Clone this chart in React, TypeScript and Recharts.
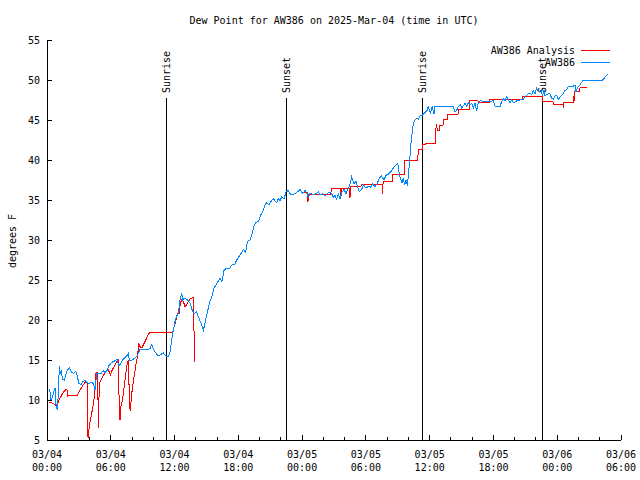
import React from 'react';
import { LineChart, Line, XAxis, YAxis, ReferenceLine } from 'recharts';

// hours since 03/04 00:00 UTC
const obsHours = [
  0.19, 0.28, 0.38, 0.5, 0.66, 0.75, 0.85, 0.97, 1.07, 1.16, 1.25, 1.35, 1.44, 1.63, 1.76, 1.94,
  2.13, 2.32, 2.51, 2.7, 2.82, 3.0, 3.2, 3.39, 3.58, 3.76, 3.95, 4.14, 4.33, 4.52, 4.67, 5.08,
  5.3, 5.46, 5.65, 5.83, 6.08, 6.4, 6.65, 6.71, 6.87, 7.09, 7.34, 7.49, 7.65, 7.74, 7.97, 8.22,
  8.43, 8.59, 8.75, 9.38, 9.69, 9.85, 10.1, 10.41, 10.63, 10.94, 11.17, 11.42, 11.57, 11.73, 11.88, 12.04,
  12.2, 12.35, 12.51, 12.67, 12.76, 12.92, 13.14, 13.29, 13.45, 13.67, 13.86, 14.08, 14.3, 14.55, 14.71, 14.86,
  15.02, 15.18, 15.33, 15.55, 15.71, 15.9, 16.09, 16.27, 16.46, 16.65, 16.9, 17.22, 17.4, 17.69, 17.84, 18.09,
  18.31, 18.47, 18.69, 18.85, 19.1, 19.25, 19.47, 19.63, 19.88, 20.1, 20.35, 20.51, 20.67, 20.88, 21.07, 21.29,
  21.45, 21.61, 21.76, 21.92, 22.08, 22.3, 22.48, 22.7, 22.86, 23.05, 23.33, 23.55, 23.8, 24.05, 24.27, 24.43,
  24.58, 24.74, 25.05, 25.37, 25.53, 25.68, 25.93, 26.15, 26.31, 26.56, 26.78, 26.94, 27.09, 27.25, 27.41, 27.56,
  27.75, 27.94, 28.13, 28.35, 28.5, 28.66, 28.76, 28.88, 29.07, 29.2, 29.38, 29.6, 29.76, 30.01, 30.23, 30.45,
  30.64, 30.86, 31.08, 31.26, 31.48, 31.7, 31.89, 32.11, 32.33, 32.58, 32.83, 32.99, 33.14, 33.27, 33.4, 33.52,
  33.65, 33.77, 33.9, 34.0, 34.09, 34.18, 34.27, 34.34, 34.42, 34.53, 34.65, 34.78, 34.93, 35.09, 35.31, 35.47,
  35.78, 35.87, 35.97, 36.09, 36.25, 36.41, 36.5, 36.66, 38.23, 38.38, 38.54, 38.7, 38.92, 39.01, 39.33, 39.48,
  39.64, 39.79, 39.95, 40.11, 40.26, 40.42, 40.58, 40.73, 41.36, 41.99, 42.15, 42.62, 42.77, 42.93, 43.09, 43.24,
  43.4, 43.56, 43.71, 43.93, 44.18, 44.5, 44.81, 44.97, 45.13, 45.44, 45.6, 45.75, 45.91, 46.07, 46.22, 46.44,
  46.63, 46.76, 46.85, 47.01, 47.32, 47.48, 47.63, 47.79, 47.95, 48.1, 48.42, 48.57, 48.73, 48.89, 49.05, 49.5,
  49.67, 49.76, 49.88, 50.14, 50.39, 52.2, 52.8,
];
const obsDewF = [
  11.3, 11.0, 10.0, 10.3, 11.1, 11.5, 9.3, 8.8, 10.8, 14.3, 13.3, 13.8, 12.6, 12.5, 13.1, 13.8,
  14.0, 13.5, 13.3, 13.6, 13.1, 12.1, 11.9, 12.3, 12.5, 12.2, 12.0, 12.2, 12.1, 11.3, 13.3, 13.3,
  13.7, 13.4, 13.7, 14.3, 14.7, 14.9, 15.1, 14.3, 14.4, 15.0, 15.3, 15.5, 15.8, 15.0, 15.0, 15.2,
  15.4, 15.8, 16.3, 16.3, 16.4, 16.9, 16.1, 15.6, 15.6, 15.9, 15.5, 15.4, 16.0, 17.5, 18.7, 19.8,
  20.5, 20.8, 22.5, 23.4, 22.5, 22.7, 22.6, 22.4, 22.1, 21.2, 20.8, 21.0, 20.2, 19.4, 18.7, 19.6,
  20.6, 21.5, 22.3, 23.1, 24.0, 24.4, 24.8, 25.2, 24.8, 26.2, 26.5, 26.5, 26.9, 27.0, 27.5, 28.0,
  28.4, 28.8, 28.5, 29.8, 30.0, 30.6, 31.7, 32.2, 32.3, 33.1, 33.7, 34.4, 34.7, 34.4, 34.8, 35.2,
  34.9, 34.7, 35.2, 34.9, 35.4, 35.1, 36.0, 36.2, 35.8, 35.6, 35.8, 36.0, 36.3, 35.8, 36.2, 35.9,
  35.3, 35.8, 35.7, 35.8, 36.0, 35.6, 35.8, 35.5, 35.7, 36.0, 35.8, 35.3, 35.6, 35.1, 35.7, 35.1,
  36.0, 36.3, 35.8, 36.5, 36.9, 37.9, 37.5, 37.0, 37.4, 36.7, 36.0, 36.3, 36.9, 36.5, 36.7, 36.6,
  37.0, 36.7, 37.1, 37.7, 38.0, 37.5, 38.1, 38.2, 38.5, 39.0, 39.4, 39.6, 38.3, 37.6, 37.1, 37.7,
  36.9, 37.5, 36.8, 38.1, 39.5, 41.0, 42.5, 43.3, 44.2, 44.8, 45.1, 45.2, 45.1, 45.5, 45.6, 45.8,
  46.2, 46.7, 46.2, 45.9, 46.7, 45.7, 46.7, 46.7, 46.7, 46.0, 46.2, 46.7, 46.9, 46.5, 47.1, 46.7,
  47.2, 46.9, 47.1, 46.5, 47.1, 46.2, 47.2, 47.4, 47.3, 47.4, 46.7, 46.7, 47.3, 47.7, 47.4, 47.9,
  47.5, 47.1, 47.5, 47.1, 47.4, 47.5, 47.6, 47.9, 48.1, 48.4, 48.2, 48.7, 48.3, 49.0, 48.5, 48.7,
  48.1, 48.7, 48.0, 48.2, 48.3, 47.7, 47.6, 48.0, 48.1, 47.6, 48.1, 48.3, 48.7, 48.8, 49.2, 49.2,
  49.4, 48.5, 49.0, 49.4, 49.9, 49.9, 50.8,
];

// analysis series, null marks the data gap
const anaHours = [
  0.19, 0.6, 0.82, 1.0, 1.22, 1.54, 1.76, 1.88, 1.94, 2.32, 2.79, 3.1, 3.42, 3.64, 3.8, 3.86,
  3.98, 4.14, 4.3, 4.45, 4.52, 4.61, 4.77, 4.83, 4.92, 5.14, 5.46, 5.77, 5.96, 6.15, 6.33, 6.55,
  6.71, 6.77, 6.87, 6.96, 7.12, 7.27, 7.4, 7.56, 7.68, 7.75, 7.84, 7.97, 8.15, 8.34, 8.5, 8.65,
  8.75, 8.91, 9.22, 9.47, 9.63, 11.82, 11.88, 12.1, 12.29, 12.42, 12.54, 12.67, 12.83, 12.98, 13.14, 13.29,
  13.5, 13.77, 13.8, 13.9, 13.92, 18.0, 23.96, 24.5, 24.55, 24.62, 26.7, 26.75, 27.6, 27.63, 27.7, 28.45,
  28.5, 28.55, 29.5, 29.6, 31.55, 31.58, 31.62, 32.5, 32.55, 33.62, 33.68, 34.88, 34.93, 35.28, 35.31, 35.62,
  35.65, 36.52, 36.56, 36.64, 36.72, 36.91, 36.97, 37.25, 37.3, 37.66, 37.7, 38.66, 38.7, 39.74, 39.78, 40.55,
  40.6, 41.6, 41.65, 44.72, 44.75, 46.6, 46.65, 47.6, 47.63, 48.55, 48.57, 48.6, 49.5, 49.55, 49.6, 49.65,
  50.1, 50.15, 50.8,
];
const anaDewF: (number | null)[] = [
  9.7, 9.6, 9.3, 9.6, 10.2, 11.0, 11.3, 11.3, 10.5, 10.6, 10.5, 11.2, 11.9, 12.3, 12.1, 5.2,
  6.7, 7.9, 9.0, 10.4, 11.7, 13.4, 13.5, 6.5, 12.1, 12.7, 13.4, 13.8, 13.1, 13.8, 14.2, 14.8,
  15.0, 10.8, 7.5, 9.2, 10.2, 11.7, 13.1, 14.7, 15.0, 9.0, 8.8, 10.8, 12.5, 14.2, 15.4, 17.0,
  16.7, 16.5, 17.3, 18.0, 18.4, 18.4, 18.8, 19.8, 20.8, 20.8, 22.1, 22.5, 22.3, 21.7, 21.9, 22.3,
  22.7, 22.8, 18.7, 18.5, 14.8, null, 36.0, 36.0, 34.8, 35.7, 35.7, 36.5, 36.5, 35.6, 36.5, 36.5,
  35.2, 36.7, 36.7, 36.9, 36.9, 35.8, 37.3, 37.3, 38.2, 38.2, 40.0, 40.0, 41.3, 41.3, 42.0, 42.0,
  42.1, 42.1, 43.5, 44.5, 43.7, 43.7, 44.3, 44.3, 45.1, 45.1, 45.7, 45.7, 46.3, 46.3, 47.4, 47.4,
  47.2, 47.2, 47.6, 47.6, 48.0, 48.0, 47.3, 47.3, 47.0, 47.0, 46.5, 47.2, 47.2, 48.0, 47.4, 48.6,
  48.6, 49.1, 49.1,
];

const sunHours = [11.28, 22.52, 35.29, 46.65];
const sunLabels = ['Sunrise', 'Sunset', 'Sunrise', 'Sunset'];
const sunLineTop = 47.75;

const xTicks = [0, 2, 4, 6, 8, 10, 12, 14, 16, 18, 20, 22, 24, 26, 28, 30, 32, 34, 36, 38, 40, 42, 44, 46, 48, 50, 52, 54];
const majorTicks = [0, 6, 12, 18, 24, 30, 36, 42, 48, 54];
const tickDates = ['03/04', '03/04', '03/04', '03/04', '03/05', '03/05', '03/05', '03/05', '03/06', '03/06'];
const tickTimes = ['00:00', '06:00', '12:00', '18:00', '00:00', '06:00', '12:00', '18:00', '00:00', '06:00'];
const yTicks = [5, 10, 15, 20, 25, 30, 35, 40, 45, 50, 55];

const obsData = obsHours.map((h, i) => ({ h, v: obsDewF[i] }));
const anaData = anaHours.map((h, i) => ({ h, v: anaDewF[i] }));

const FONT = '"DejaVu Sans Mono", monospace';
const RED = '#ff0000';
const BLUE = '#0088ff';

const BottomTick = (props: any) => {
  const { x, y, payload } = props;
  const idx = majorTicks.indexOf(payload.value);
  const len = idx >= 0 ? 5 : 3;
  return (
    <g>
      <line x1={x} y1={y} x2={x} y2={y - len} stroke="#000" shapeRendering="crispEdges" />
      {idx >= 0 && (
        <text textAnchor="middle" fontFamily={FONT} fontSize={10} fill="#000">
          <tspan x={x} y={y + 18}>{tickDates[idx]}</tspan>
          <tspan x={x} y={y + 31}>{tickTimes[idx]}</tspan>
        </text>
      )}
    </g>
  );
};

const TopTick = (props: any) => {
  const { x, y, payload } = props;
  const len = majorTicks.includes(payload.value) ? 5 : 3;
  return <line x1={x} y1={y} x2={x} y2={y + len} stroke="#000" shapeRendering="crispEdges" />;
};

const LeftTick = (props: any) => {
  const { x, y, payload } = props;
  return (
    <g>
      <line x1={x} y1={y} x2={x + 5} y2={y} stroke="#000" shapeRendering="crispEdges" />
      <text x={x - 7} y={y + 4} textAnchor="end" fontFamily={FONT} fontSize={10} fill="#000">
        {payload.value}
      </text>
    </g>
  );
};

const RightTick = (props: any) => {
  const { x, y } = props;
  return <line x1={x} y1={y} x2={x - 5} y2={y} stroke="#000" shapeRendering="crispEdges" />;
};

const SunLabel = (props: any) => {
  const { viewBox, text } = props;
  if (!viewBox) return null;
  const x = viewBox.x;
  const y = viewBox.y - 5;
  return (
    <text
      transform={`translate(${x},${y}) rotate(-90)`}
      textAnchor="start"
      dominantBaseline="central"
      fontFamily={FONT}
      fontSize={10}
      fill="#000"
    >
      {text}
    </text>
  );
};

export default function App() {
  return (
    <div style={{ position: 'absolute', left: 0, top: 0, width: 640, height: 480, background: '#fff' }}>
      <LineChart width={640} height={480} margin={{ top: 40, right: 19, bottom: 0, left: 0 }}>
        <XAxis
          dataKey="h"
          type="number"
          domain={[0, 54]}
          allowDataOverflow
          ticks={xTicks}
          interval={0}
          height={40}
          tickSize={0}
          tickMargin={0}
          tickLine={false}
          axisLine={{ stroke: '#000', shapeRendering: 'crispEdges' }}
          tick={<BottomTick />}
        />
        <XAxis
          xAxisId="top"
          orientation="top"
          type="number"
          domain={[0, 54]}
          allowDataOverflow
          ticks={xTicks}
          interval={0}
          height={0}
          tickSize={0}
          tickMargin={0}
          tickLine={false}
          axisLine={{ stroke: '#000', shapeRendering: 'crispEdges' }}
          tick={<TopTick />}
        />
        <YAxis
          type="number"
          domain={[5, 55]}
          allowDataOverflow
          ticks={yTicks}
          interval={0}
          width={47}
          tickSize={0}
          tickMargin={0}
          tickLine={false}
          axisLine={{ stroke: '#000', shapeRendering: 'crispEdges' }}
          tick={<LeftTick />}
        />
        <YAxis
          yAxisId="right"
          orientation="right"
          type="number"
          domain={[5, 55]}
          allowDataOverflow
          ticks={yTicks}
          interval={0}
          width={0}
          tickSize={0}
          tickMargin={0}
          tickLine={false}
          axisLine={{ stroke: '#000', shapeRendering: 'crispEdges' }}
          tick={<RightTick />}
        />

        {sunHours.map((h, i) => (
          <ReferenceLine
            key={`sun-${i}`}
            segment={[{ x: h, y: 5 }, { x: h, y: sunLineTop }]}
            stroke="#000"
            strokeWidth={1}
            shapeRendering="crispEdges"
            label={<SunLabel text={sunLabels[i]} />}
          />
        ))}

        <Line
          data={anaData}
          dataKey="v"
          name="AW386 Analysis"
          type="linear"
          stroke={RED}
          strokeWidth={1}
          dot={false}
          activeDot={false}
          shapeRendering="crispEdges"
          isAnimationActive={false}
        />
        <Line
          data={obsData}
          dataKey="v"
          name="AW386"
          type="linear"
          stroke={BLUE}
          strokeWidth={1}
          dot={false}
          activeDot={false}
          shapeRendering="crispEdges"
          isAnimationActive={false}
        />
      </LineChart>

      {/* title, axis label and key drawn on top */}
      <svg
        width={640}
        height={480}
        style={{ position: 'absolute', left: 0, top: 0, pointerEvents: 'none' }}
        fontFamily={FONT}
        fontSize={10}
      >
        <text x={334} y={23.5} textAnchor="middle" fill="#000">
          Dew Point for AW386 on 2025-Mar-04 (time in UTC)
        </text>
        <text transform="translate(12,241) rotate(-90)" textAnchor="middle" dominantBaseline="central" fill="#000">
          degrees F
        </text>
        <text x={575} y={53.5} textAnchor="end" fill="#000">AW386 Analysis</text>
        <line x1={581} y1={50} x2={610} y2={50} stroke={RED} shapeRendering="crispEdges" />
        <text x={575} y={66} textAnchor="end" fill="#000">AW386</text>
        <line x1={581} y1={62.5} x2={610} y2={62.5} stroke={BLUE} shapeRendering="crispEdges" />
      </svg>
    </div>
  );
}
